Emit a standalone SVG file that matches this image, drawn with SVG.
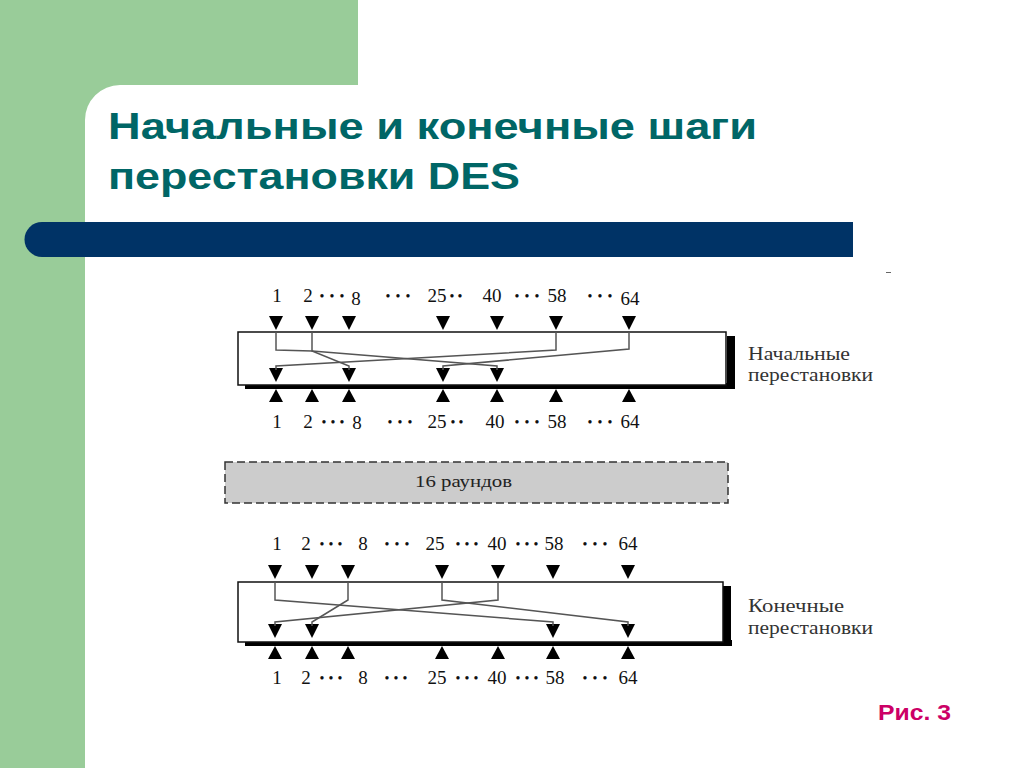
<svg xmlns="http://www.w3.org/2000/svg" xmlns:xlink="http://www.w3.org/1999/xlink" width="1024" height="768" viewBox="0 0 1024 768">
<defs>
<style>
.t{font-family:"Liberation Serif",serif;font-size:19px;fill:#111;text-anchor:middle}
.d{font-family:"Liberation Serif",serif;font-size:14px;fill:#111;text-anchor:middle}
.lab{font-family:"Liberation Serif",serif;font-size:18px;fill:#333}
.w{fill:none;stroke:#555;stroke-width:1.5}
.box{fill:#fff;stroke:#111;stroke-width:1.5}
.sh{fill:#000}
</style>
<path id="dn" d="M-7,0 L7,0 L0,14 Z" fill="#000"/>
<path id="up" d="M-7,13 L7,13 L0,0 Z" fill="#000"/>
</defs>
<rect width="1024" height="768" fill="#fff"/>
<g id="background">
<rect x="0" y="0" width="358" height="85" fill="#99cc99"/>
<rect x="0" y="0" width="85" height="768" fill="#99cc99"/>
<path d="M85,85 H120 A35,35 0 0 0 85,120 Z" fill="#99cc99"/>
<path d="M42,222 H853 V257 H42 A17.5,17.5 0 0 1 42,222 Z" fill="#003366"/>
<rect x="886" y="272" width="5" height="1" fill="#666"/>
</g>
<g id="title" font-family="Liberation Sans, Arial, sans-serif" font-weight="bold" font-size="36" fill="#006666">
<text x="108" y="139" textLength="649" lengthAdjust="spacingAndGlyphs">Начальные и конечные шаги</text>
<text x="108" y="189" textLength="412" lengthAdjust="spacingAndGlyphs">перестановки DES</text>
</g>
<g id="caption"><text x="878" y="720" textLength="73" lengthAdjust="spacingAndGlyphs" font-family="Liberation Sans, Arial, sans-serif" font-weight="bold" font-size="22" fill="#cc0066">Рис. 3</text></g>

<g id="initial-perm">
<rect class="sh" x="245" y="383" width="490" height="6"/>
<rect class="sh" x="727" y="336" width="8" height="53"/>
<rect class="box" x="238" y="332" width="488" height="53"/>
<g id="ip-top-labels">
<text class="t" x="277" y="302">1</text><text class="t" x="308" y="302">2</text><text class="t" x="356" y="305">8</text>
<text class="t" x="437" y="302">25</text><text class="t" x="492" y="302">40</text>
<text class="t" x="557" y="302">58</text><text class="t" x="630" y="305">64</text>
<text class="d" x="322 332 342" y="301">•••</text><text class="d" x="388 398 408" y="301">•••</text><text class="d" x="452 460" y="301">••</text>
<text class="d" x="517 527 537" y="301">•••</text><text class="d" x="590 600 610" y="301">•••</text>
</g>
<g id="ip-arrows">
<use xlink:href="#dn" x="276" y="316"/><use xlink:href="#dn" x="312" y="316"/><use xlink:href="#dn" x="349" y="316"/><use xlink:href="#dn" x="443" y="316"/><use xlink:href="#dn" x="497" y="316"/><use xlink:href="#dn" x="556" y="316"/><use xlink:href="#dn" x="629" y="316"/>
<use xlink:href="#dn" x="276" y="368"/><use xlink:href="#dn" x="349" y="368"/><use xlink:href="#dn" x="443" y="368"/><use xlink:href="#dn" x="497" y="368"/>
<use xlink:href="#up" x="276" y="389"/><use xlink:href="#up" x="312" y="389"/><use xlink:href="#up" x="349" y="389"/><use xlink:href="#up" x="443" y="389"/><use xlink:href="#up" x="497" y="389"/><use xlink:href="#up" x="556" y="389"/><use xlink:href="#up" x="629" y="389"/>
</g>
<g id="ip-bottom-labels">
<text class="t" x="277" y="428">1</text><text class="t" x="308" y="428">2</text><text class="t" x="357" y="429">8</text>
<text class="t" x="437" y="428">25</text><text class="t" x="495" y="428">40</text>
<text class="t" x="557" y="428">58</text><text class="t" x="630" y="428">64</text>
<text class="d" x="324 333 342" y="427">•••</text><text class="d" x="390 400 410" y="427">•••</text><text class="d" x="453 461" y="427">••</text>
<text class="d" x="517 527 537" y="427">•••</text><text class="d" x="590 600 610" y="427">•••</text>
</g>
<text class="lab" x="748" y="360" textLength="102" lengthAdjust="spacingAndGlyphs">Начальные</text>
<text class="lab" x="748" y="381" textLength="125" lengthAdjust="spacingAndGlyphs">перестановки</text>
</g>

<g id="rounds">
<rect x="225" y="462" width="503" height="41" fill="#cccccc" stroke="#333" stroke-width="1.5" stroke-dasharray="8,4"/>
<text x="415" y="487" textLength="97" lengthAdjust="spacingAndGlyphs" font-family="Liberation Serif, serif" font-size="17" fill="#222">16 раундов</text>
</g>

<g id="final-perm">
<rect class="sh" x="245" y="640" width="487" height="6"/>
<rect class="sh" x="723" y="586" width="8" height="60"/>
<rect class="box" x="238" y="582" width="485" height="60"/>
<g id="fp-top-labels">
<text class="t" x="277" y="550">1</text><text class="t" x="306" y="550">2</text><text class="t" x="363" y="550">8</text>
<text class="t" x="435" y="550">25</text><text class="t" x="497" y="550">40</text>
<text class="t" x="554" y="550">58</text><text class="t" x="628" y="550">64</text>
<text class="d" x="322 331 340" y="549">•••</text><text class="d" x="387 397 407" y="549">•••</text><text class="d" x="458 467 476" y="549">•••</text>
<text class="d" x="518 527 536" y="549">•••</text><text class="d" x="585 595 605" y="549">•••</text>
</g>
<g id="fp-arrows">
<use xlink:href="#dn" x="275" y="565"/><use xlink:href="#dn" x="312" y="565"/><use xlink:href="#dn" x="348" y="565"/><use xlink:href="#dn" x="442" y="565"/><use xlink:href="#dn" x="498" y="565"/><use xlink:href="#dn" x="553" y="565"/><use xlink:href="#dn" x="628" y="565"/>
<use xlink:href="#dn" x="275" y="624"/><use xlink:href="#dn" x="312" y="624"/><use xlink:href="#dn" x="553" y="624"/><use xlink:href="#dn" x="628" y="624"/>
<use xlink:href="#up" x="275" y="646"/><use xlink:href="#up" x="312" y="646"/><use xlink:href="#up" x="348" y="646"/><use xlink:href="#up" x="442" y="646"/><use xlink:href="#up" x="498" y="646"/><use xlink:href="#up" x="553" y="646"/><use xlink:href="#up" x="628" y="646"/>
</g>
<g id="fp-bottom-labels">
<text class="t" x="277" y="684">1</text><text class="t" x="306" y="684">2</text><text class="t" x="363" y="684">8</text>
<text class="t" x="437" y="684">25</text><text class="t" x="497" y="684">40</text>
<text class="t" x="555" y="684">58</text><text class="t" x="628" y="684">64</text>
<text class="d" x="322 331 340" y="683">•••</text><text class="d" x="387 396 405" y="683">•••</text><text class="d" x="458 467 476" y="683">•••</text>
<text class="d" x="518 527 536" y="683">•••</text><text class="d" x="585 595 605" y="683">•••</text>
</g>
<text class="lab" x="748" y="612" textLength="96" lengthAdjust="spacingAndGlyphs">Конечные</text>
<text class="lab" x="748" y="634" textLength="125" lengthAdjust="spacingAndGlyphs">перестановки</text>
</g>

<g id="connectors">
<path class="w" d="M276,332 V350 L312,351 L497,366 V370"/>
<path class="w" d="M312,332 V351 L349,366 V370"/>
<path class="w" d="M556,332 V350 L276,366 V370"/>
<path class="w" d="M629,332 V349 L443,366 V370"/>
<path class="w" d="M275,582 V600 L553,622 V626"/>
<path class="w" d="M348,582 V600 L312,622 V626"/>
<path class="w" d="M442,582 V600 L628,622 V626"/>
<path class="w" d="M498,582 V600 L275,622 V626"/>
</g>
</svg>
